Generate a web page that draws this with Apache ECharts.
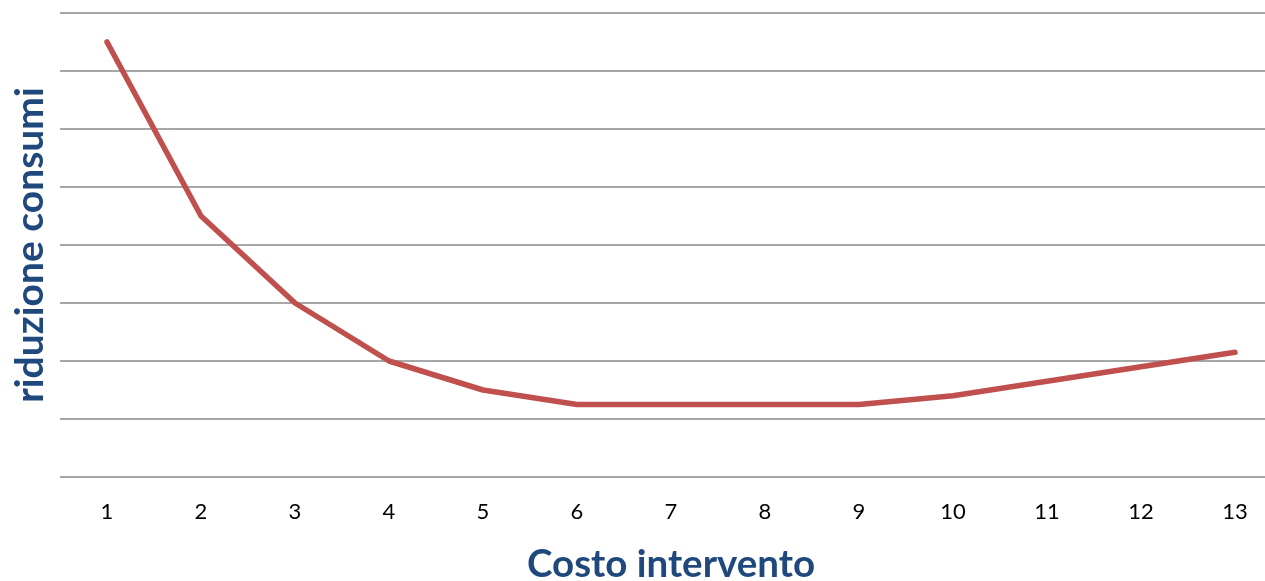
<!DOCTYPE html>
<html>
<head>
<meta charset="utf-8">
<script src="https://cdn.jsdelivr.net/npm/echarts@6/dist/echarts.min.js"></script>
<style>
html,body{margin:0;padding:0;background:#fff;}
#chart{width:1265px;height:581px;}
</style>
</head>
<body>
<div id="chart"></div>
<script>
const categories = ['1','2','3','4','5','6','7','8','9','10','11','12','13'];
const values = [7.5, 4.5, 3, 2, 1.5, 1.25, 1.25, 1.25, 1.25, 1.4, 1.65, 1.9, 2.15];
const xTitle = 'Costo intervento';
const yTitle = 'riduzione consumi';

const chart = echarts.init(document.getElementById('chart'), null, {renderer: 'canvas'});
chart.setOption({
  animation: false,
  backgroundColor: '#ffffff',
  grid: {left: 60, right: -17, top: 13, bottom: 104, outerBoundsMode: 'none', containLabel: false},
  xAxis: {
    type: 'category',
    data: categories,
    boundaryGap: true,
    axisLine: {show: false},
    axisTick: {show: false},
    axisLabel: {color: '#000', fontFamily: 'Lato', fontSize: 22, margin: 24},
    name: xTitle,
    nameLocation: 'middle',
    nameGap: 68,
    nameTextStyle: {color: '#1F497D', fontFamily: 'Lato', fontWeight: 'bold', fontSize: 38.5}
  },
  yAxis: {
    type: 'value',
    min: 0, max: 8, interval: 1,
    axisLine: {show: false},
    axisTick: {show: false},
    axisLabel: {show: false},
    splitLine: {lineStyle: {color: '#8a8a8a', width: 1.5}},
    name: yTitle,
    nameLocation: 'middle',
    nameGap: 10,
    nameRotate: 90,
    nameTextStyle: {color: '#1F497D', fontFamily: 'Lato', fontWeight: 'bold', fontSize: 39}
  },
  series: [{
    type: 'line',
    data: values,
    symbol: 'none',
    lineStyle: {color: '#C0504D', width: 5.5, cap: 'round', join: 'round'}
  }]
});
</script>
</body>
</html>
